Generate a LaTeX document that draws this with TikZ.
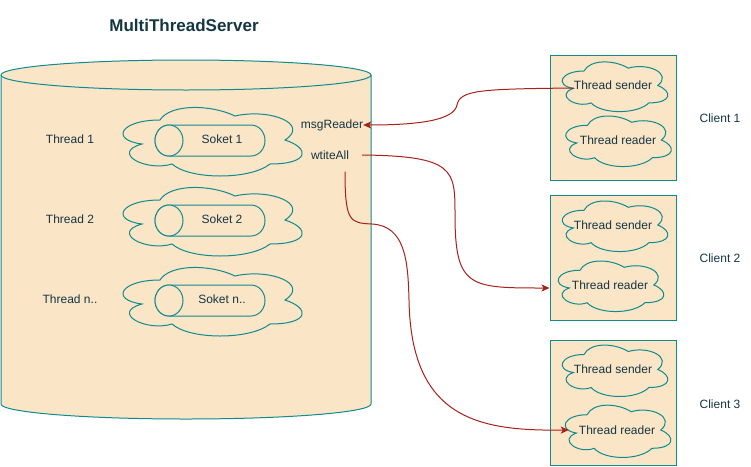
\documentclass[tikz,border=0pt]{standalone}
\usepackage{fontspec}
\setmainfont{Liberation Sans}
\usetikzlibrary{arrows.meta}
\definecolor{fuell}{HTML}{FAE5C7}
\definecolor{rand}{HTML}{0F8B8D}
\definecolor{schrift}{HTML}{143642}
\definecolor{pfeil}{HTML}{A8201A}
\tikzset{
  form/.style={draw=rand, fill=fuell, line width=1pt},
  kiste/.style={form, minimum width=126pt, minimum height=125pt, inner sep=0pt},
  txt/.style={text=schrift, font=\fontsize{12}{14}\selectfont, inner sep=0pt},
  verb/.style={draw=pfeil, line width=1pt, -{Stealth[length=8pt, width=7pt, inset=2pt]}},
}
% Wolke: x, y (oben links), Breite, Hoehe
\newcommand{\wolkenform}[4]{%
  \draw[form, shift={({#1},{#2})}, xscale=#3, yscale=#4]
    (0.25,0.25) .. controls (0.05,0.25) and (0,0.5) .. (0.16,0.55)
    .. controls (0,0.66) and (0.18,0.9) .. (0.31,0.8)
    .. controls (0.4,1) and (0.7,1) .. (0.8,0.8)
    .. controls (1,0.8) and (1,0.6) .. (0.875,0.5)
    .. controls (1,0.3) and (0.8,0.1) .. (0.625,0.2)
    .. controls (0.5,0.05) and (0.3,0.05) .. (0.25,0.25) -- cycle;}
\begin{document}
\begin{tikzpicture}[x=1pt,y=-1pt]
  \useasboundingbox (0,0) rectangle (751,466);
  % Server
  \node[txt, font=\fontsize{17}{20}\selectfont\bfseries] (titel) at (184,25) {MultiThreadServer};
  \draw[form] (1,75) -- (1,404) arc[start angle=180, end angle=360, x radius=185pt, y radius=15pt]
    -- (371,75) arc[start angle=0, end angle=180, x radius=185pt, y radius=15pt] -- cycle;
  \draw[form, fill=none] (1,75) arc[start angle=180, end angle=360, x radius=185pt, y radius=15pt];
  % Threads mit Soket
  \foreach \i/\y/\n in {1/140/1, 2/220/2, 3/300/n..} {
    \node[txt] (t\i) at (70,{\y-1}) {Thread \n};
    \wolkenform{110}{\y-40}{200}{80}
    \draw[form] (169,{\y-15}) -- (251,{\y-15}) arc[start angle=90, end angle=-90, x radius=14pt, y radius=15.5pt]
      -- (169,{\y+16}) arc[start angle=270, end angle=90, x radius=14pt, y radius=15.5pt];
    \draw[form] (169,{\y+0.5}) ellipse[x radius=14pt, y radius=15.5pt];
    \node[txt] (so\i) at (222,{\y-1}) {Soket \n};
  }
  \node[txt] (mr) at (332,125) {msgReader};
  \node[txt] (wt) at (330,155) {wtiteAll};
  % Clients
  \node[kiste] (k1) at (613,117.5) {};
  \node[kiste] (k2) at (613,257.5) {};
  \node[kiste] (k3) at (613,402.5) {};
  \wolkenform{554.5}{56.5}{118}{58}
  \wolkenform{558}{110.5}{118}{59}
  \wolkenform{554.5}{195.5}{118}{59}
  \wolkenform{550.5}{255.5}{118}{59}
  \wolkenform{554.5}{339.5}{118}{60}
  \wolkenform{557.5}{399.5}{118}{61}
  \node[txt] (s1) at (613,85) {Thread sender};
  \node[txt] (r1) at (618,140) {Thread reader};
  \node[txt] (s2) at (613,225) {Thread sender};
  \node[txt] (r2) at (610,285) {Thread reader};
  \node[txt] (s3) at (613,369) {Thread sender};
  \node[txt] (r3) at (617,430) {Thread reader};
  \node[txt] (c1) at (720,118) {Client 1};
  \node[txt] (c2) at (720,258) {Client 2};
  \node[txt] (c3) at (720,404) {Client 3};
  % Pfeile
  \draw[verb] ([yshift=-3]s1.west) .. controls (480,89) and (460,90) .. (457,105)
    .. controls (454,120) and (420,125) .. (mr.east);
  \draw[verb] ([xshift=13]wt.east) .. controls (455,156) and (455,170) .. (455,215)
    .. controls (455,288) and (470,288) .. ([yshift=-3]k2.west |- r2.west);
  \draw[verb] ([shift={(15,12)}]wt.south) .. controls (345,222) and (350,223) .. (372,224)
    .. controls (405,226) and (408,260) .. (409,300) .. controls (411,420) and (480,431) .. ([xshift=-10]r3.west);
\end{tikzpicture}
\end{document}
